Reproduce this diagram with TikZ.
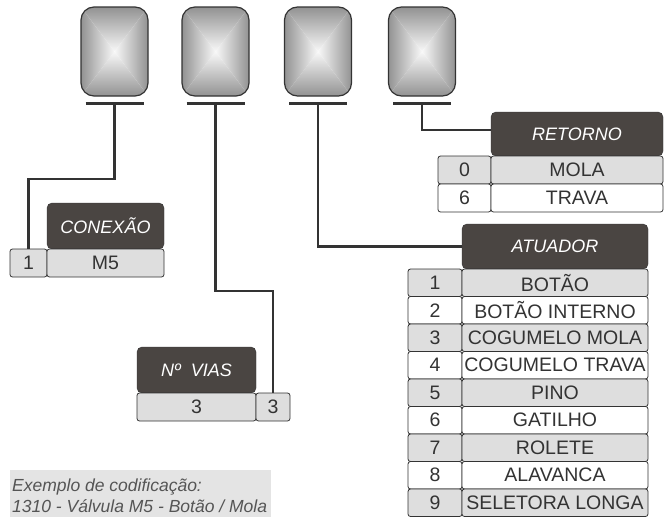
\documentclass[tikz,border=0pt]{standalone}
\usepackage{fontspec}
\setmainfont{Liberation Sans}

\definecolor{escuro}{HTML}{4A4542}
\definecolor{cinza}{HTML}{DEDEDE}
\definecolor{linha}{HTML}{333333}
\definecolor{botaoborda}{HTML}{929292}
\definecolor{botaomeio}{HTML}{F8F8F8}
\definecolor{caixa}{HTML}{E4E4E4}
\definecolor{textocaixa}{HTML}{555555}

\tikzset{
  botao/.style={draw=linha, line width=1.2pt, rounded corners=13pt,
    minimum width=67pt, minimum height=89pt, inner sep=0pt,
    path picture={
      \coordinate (nw) at (path picture bounding box.north west);
      \coordinate (ne) at (path picture bounding box.north east);
      \coordinate (sw) at (path picture bounding box.south west);
      \coordinate (se) at (path picture bounding box.south east);
      \coordinate (mc) at (path picture bounding box.center);
      \shade[sharp corners, top color=botaoborda, bottom color=botaomeio] (nw) -- (ne) -- (mc) -- cycle;
      \shade[sharp corners, top color=botaomeio, bottom color=botaoborda] (sw) -- (se) -- (mc) -- cycle;
      \shade[sharp corners, left color=botaoborda, right color=botaomeio] (nw) -- (sw) -- (mc) -- cycle;
      \shade[sharp corners, left color=botaomeio, right color=botaoborda] (ne) -- (se) -- (mc) -- cycle;
    }},
  cabeca/.style={draw=linha, fill=escuro, text=white, rounded corners=5pt,
    inner sep=0pt, font=\itshape\fontsize{18}{20}\selectfont},
  celula/.style={draw=linha, line width=0.8pt, rounded corners=2.5pt,
    inner sep=0pt, text=linha, font=\fontsize{19.5}{21}\selectfont},
  barra/.style={draw=linha, line width=3pt},
  haste/.style={draw=linha, line width=2.2pt},
}

\begin{document}
\begin{tikzpicture}[x=1pt, y=-1pt]
  \useasboundingbox (0,0) rectangle (664,517);

  % botoes
  \foreach \i/\x in {1/114.5, 2/215.5, 3/318, 4/422} {
    \node[botao] (b\i) at (\x,51.5) {};
    \coordinate (t\i) at ([yshift=-7pt]b\i.south);
    \draw[barra] ([xshift=-29pt]t\i) -- ([xshift=29pt]t\i);
  }

  % retorno
  \node[cabeca, minimum width=172pt, minimum height=44pt] (ret) at (577,134) {RETORNO};
  \node[celula, fill=cinza, minimum width=53pt, minimum height=28pt] (ret-n1) at (464.5,170) {0};
  \node[celula, fill=cinza, minimum width=172pt, minimum height=28pt] (ret-t1) at (577,170) {MOLA};
  \node[celula, fill=white, minimum width=53pt, minimum height=28pt] (ret-n2) at (464.5,198) {6};
  \node[celula, fill=white, minimum width=172pt, minimum height=28pt] (ret-t2) at (577,198) {TRAVA};

  % atuador
  \node[cabeca, minimum width=186pt, minimum height=45pt] (atu) at (555,246.5) {ATUADOR};
  \foreach \n/\t/\c in {1/BOTÃO/cinza, 2/BOTÃO INTERNO/white, 3/COGUMELO MOLA/cinza,
      4/COGUMELO TRAVA/white, 5/PINO/cinza, 6/GATILHO/white, 7/ROLETE/cinza,
      8/ALAVANCA/white, 9/SELETORA LONGA/cinza} {
    \node[celula, fill=\c, minimum width=54pt, minimum height=27.5pt] (atu-n\n) at (435,{282.75+27.5*(\n-1)}) {\n};
    \node[celula, fill=\c, minimum width=186pt, minimum height=27.5pt] (atu-t\n) at (555,{282.75+27.5*(\n-1)}) {\t};
  }

  % conexao
  \node[cabeca, minimum width=117pt, minimum height=46pt] (con) at (105.5,226) {CONEXÃO};
  \node[celula, fill=cinza, minimum width=37pt, minimum height=28pt] (con-n) at (28.5,263) {1};
  \node[celula, fill=cinza, minimum width=117pt, minimum height=28pt] (con-t) at (105.5,263) {M5};

  % vias
  \node[cabeca, minimum width=119pt, minimum height=46pt] (vias) at (196.5,370) {Nº\ \ VIAS};
  \node[celula, fill=cinza, minimum width=119pt, minimum height=28pt] (vias-t) at (196.5,407) {3};
  \node[celula, fill=cinza, minimum width=34pt, minimum height=28pt] (vias-n) at (273,407) {3};

  % ligacoes
  \draw[haste] (t1) -- ++(0,75) -| (con-n.north);
  \draw[haste] (t2) -- ++(0,187) -| (vias-n.north);
  \draw[haste] (t3) |- (atu.west);
  \draw[haste] (t4) |- ([yshift=4pt]ret.west);

  % exemplo
  \fill[caixa] (10,470) rectangle (271,517);
  \node[anchor=base west, text=textocaixa, inner sep=0pt, font=\itshape\fontsize{17.5}{20}\selectfont] (ex1) at (12,491) {Exemplo de codificação:};
  \node[anchor=base west, text=textocaixa, inner sep=0pt, font=\itshape\fontsize{17.5}{20}\selectfont] (ex2) at (12,512) {1310 - Válvula M5 - Botão / Mola};
\end{tikzpicture}
\end{document}
